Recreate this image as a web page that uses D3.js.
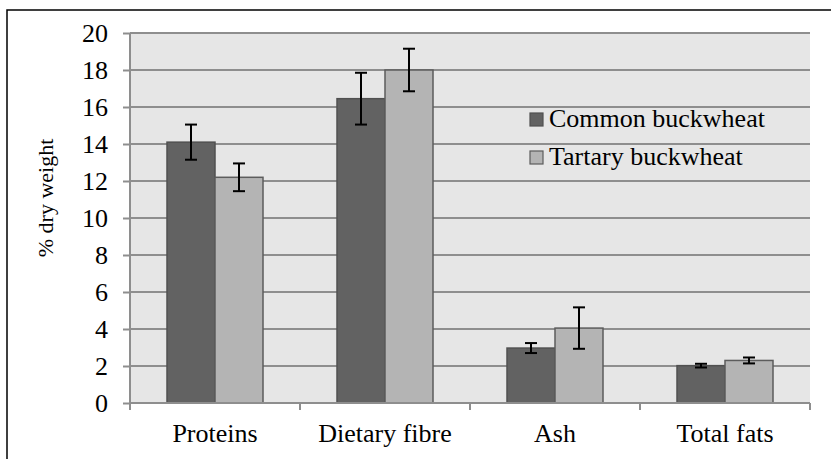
<!DOCTYPE html>
<html>
<head>
<meta charset="utf-8">
<script src="https://cdn.jsdelivr.net/npm/d3@7"></script>
<style>
  body { margin: 0; background: #fff; }
</style>
</head>
<body>
<div id="chart"></div>
<script>
const categories = ["Proteins", "Dietary fibre", "Ash", "Total fats"];
const seriesNames = ["Common buckwheat", "Tartary buckwheat"];
const commonValues = [14.1, 16.45, 2.97, 2.02];
const commonErrors = [0.95, 1.4, 0.27, 0.1];
const tartaryValues = [12.2, 18.0, 4.05, 2.3];
const tartaryErrors = [0.75, 1.15, 1.12, 0.16];
const yTicks = [0, 2, 4, 6, 8, 10, 12, 14, 16, 18, 20];

const W = 831, H = 459;
const FONT = '"Liberation Serif", "Times New Roman", serif';
const margin = { top: 33, right: 21, bottom: 56, left: 130 };
const colors = ["#626262", "#b4b4b4"];
const strokes = ["#505050", "#5c5c5c"];

const data = categories.map((c, i) => ({
  cat: c,
  vals: [
    { s: 0, v: commonValues[i], e: commonErrors[i] },
    { s: 1, v: tartaryValues[i], e: tartaryErrors[i] }
  ]
}));

const svg = d3.select("#chart").append("svg")
  .attr("width", W)
  .attr("height", H);

// outer frame (only top and left are inside the picture)
svg.append("path")
  .attr("d", `M7,${H} V10 H${W}`)
  .attr("fill", "none")
  .attr("stroke", "#000")
  .attr("stroke-width", 1.5);

const width = W - margin.left - margin.right;
const height = H - margin.top - margin.bottom;

const g = svg.append("g")
  .attr("transform", `translate(${margin.left}, ${margin.top})`);

const x = d3.scaleBand().domain(categories).range([0, width]);
const xs = d3.scaleBand().domain([0, 1]).range([37, x.bandwidth() - 37]);
const y = d3.scaleLinear().domain([0, 20]).range([height, 0]);

g.append("rect")
  .attr("width", width)
  .attr("height", height)
  .attr("fill", "#e6e6e6");

// gridlines
g.selectAll("line.grid")
  .data(yTicks.filter(t => t > 0))
  .enter()
  .append("line")
  .attr("class", "grid")
  .attr("x1", 0)
  .attr("x2", width)
  .attr("y1", d => y(d))
  .attr("y2", d => y(d))
  .attr("stroke", "#8e8e8e")
  .attr("stroke-width", 2);

// y axis
const yAxis = g.append("g")
  .call(d3.axisLeft(y).tickValues(yTicks).tickSize(7).tickPadding(15));
yAxis.select("path.domain").remove();
yAxis.selectAll(".tick line").attr("stroke", "#8e8e8e").attr("stroke-width", 2);
yAxis.selectAll(".tick text")
  .style("font-family", FONT)
  .style("font-size", "26px")
  .attr("fill", "#000")
  .attr("dy", "0.33em");

// bars
const groups = g.selectAll("g.cat")
  .data(data)
  .enter()
  .append("g")
  .attr("class", "cat")
  .attr("transform", d => `translate(${x(d.cat)}, 0)`);

groups.selectAll("rect")
  .data(d => d.vals)
  .enter()
  .append("rect")
  .attr("x", d => xs(d.s))
  .attr("width", xs.bandwidth())
  .attr("y", d => y(d.v))
  .attr("height", d => y(0) - y(d.v))
  .attr("fill", d => colors[d.s])
  .attr("stroke", d => strokes[d.s])
  .attr("stroke-width", 1.5);

// error bars
const err = groups.selectAll("g.err")
  .data(d => d.vals)
  .enter()
  .append("g")
  .attr("class", "err")
  .attr("stroke", "#000")
  .attr("stroke-width", 2);
err.append("line")
  .attr("x1", d => xs(d.s) + xs.bandwidth() / 2)
  .attr("x2", d => xs(d.s) + xs.bandwidth() / 2)
  .attr("y1", d => y(d.v + d.e))
  .attr("y2", d => y(d.v - d.e));
err.selectAll("line.cap")
  .data(d => [{ s: d.s, t: d.v + d.e }, { s: d.s, t: d.v - d.e }])
  .enter()
  .append("line")
  .attr("class", "cap")
  .attr("x1", d => xs(d.s) + xs.bandwidth() / 2 - 6)
  .attr("x2", d => xs(d.s) + xs.bandwidth() / 2 + 6)
  .attr("y1", d => y(d.t))
  .attr("y2", d => y(d.t));

// axis lines
g.append("line")
  .attr("x1", 0).attr("x2", width)
  .attr("y1", height).attr("y2", height)
  .attr("stroke", "#8e8e8e").attr("stroke-width", 2);
g.append("line")
  .attr("x1", 0).attr("x2", 0)
  .attr("y1", 0).attr("y2", height + 7)
  .attr("stroke", "#8e8e8e").attr("stroke-width", 2);

// x ticks at category boundaries
g.selectAll("line.xtick")
  .data(categories)
  .enter()
  .append("line")
  .attr("class", "xtick")
  .attr("x1", d => x(d) + x.bandwidth())
  .attr("x2", d => x(d) + x.bandwidth())
  .attr("y1", height)
  .attr("y2", height + 7)
  .attr("stroke", "#8e8e8e")
  .attr("stroke-width", 2);

g.selectAll("text.xlabel")
  .data(categories)
  .enter()
  .append("text")
  .attr("class", "xlabel")
  .attr("x", d => x(d) + x.bandwidth() / 2)
  .attr("y", height + 39)
  .attr("text-anchor", "middle")
  .style("font-family", FONT)
  .style("font-size", "26px")
  .text(d => d);

// y title
svg.append("text")
  .attr("transform", "translate(53, 198) rotate(-90)")
  .attr("text-anchor", "middle")
  .style("font-family", FONT)
  .style("font-size", "22px")
  .text("% dry weight");

// legend
const legend = svg.append("g").attr("transform", "translate(530, 113)");
const li = legend.selectAll("g")
  .data(seriesNames)
  .enter()
  .append("g")
  .attr("transform", (d, i) => `translate(0, ${i * 38})`);
li.append("rect")
  .attr("width", 13)
  .attr("height", 13)
  .attr("fill", (d, i) => colors[i])
  .attr("stroke", (d, i) => strokes[i])
  .attr("stroke-width", 1.2);
li.append("text")
  .attr("x", 19)
  .attr("y", 14)
  .style("font-family", FONT)
  .style("font-size", "26px")
  .text(d => d);
</script>
</body>
</html>
